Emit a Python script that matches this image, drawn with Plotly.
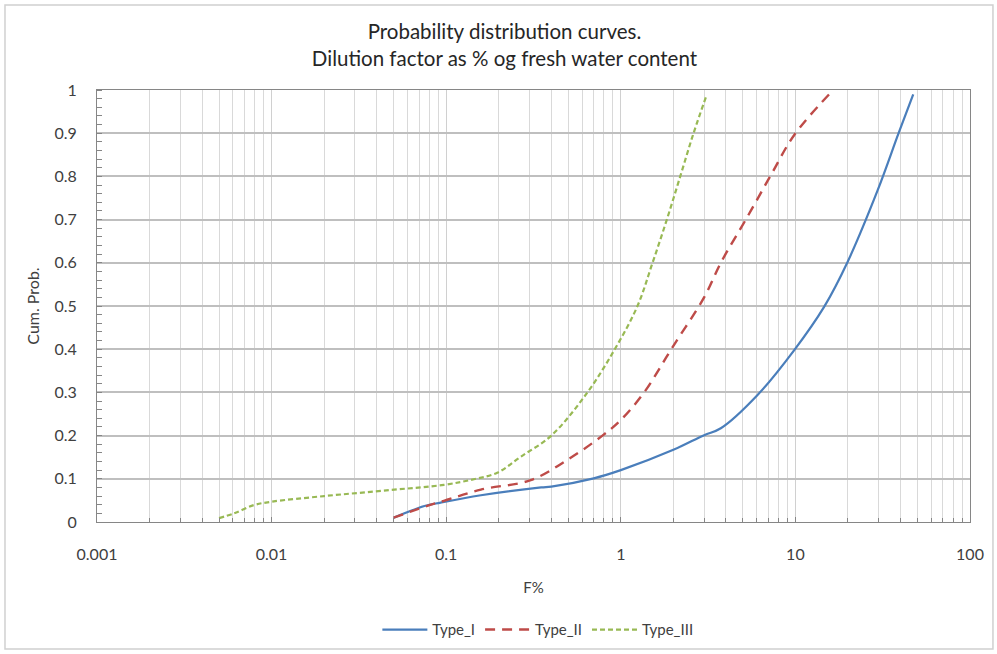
import plotly.graph_objects as go

# Data
type1_x = [0.05, 0.075, 0.093, 0.158, 0.35, 0.40, 0.70, 1.0, 2.0, 3.0, 3.74, 6.07, 9.85, 14.6, 19.9, 29.6, 39.0, 47.3]
type1_y = [0.010, 0.037, 0.045, 0.062, 0.080, 0.082, 0.101, 0.120, 0.167, 0.201, 0.217, 0.294, 0.398, 0.498, 0.602, 0.768, 0.900, 0.990]

type2_x = [0.05, 0.075, 0.097, 0.158, 0.305, 0.50, 0.785, 1.0, 1.36, 1.98, 3.0, 3.74, 5.32, 7.24, 9.85, 15.6]
type2_y = [0.010, 0.035, 0.049, 0.075, 0.097, 0.145, 0.200, 0.236, 0.300, 0.405, 0.520, 0.600, 0.707, 0.803, 0.896, 0.990]

type3_x = [0.005, 0.0061, 0.0079, 0.01, 0.02, 0.048, 0.097, 0.144, 0.196, 0.267, 0.40, 0.644, 0.924, 1.246, 1.52, 1.835, 2.19, 2.61, 3.1]
type3_y = [0.009, 0.020, 0.039, 0.047, 0.060, 0.074, 0.086, 0.099, 0.114, 0.151, 0.200, 0.300, 0.40, 0.50, 0.60, 0.70, 0.80, 0.90, 0.988]

x_tick_vals = [0.001, 0.01, 0.1, 1, 10, 100]
x_tick_text = ["0.001", "0.01", "0.1", "1", "10", "100"]
y_tick_vals = [0, 0.1, 0.2, 0.3, 0.4, 0.5, 0.6, 0.7, 0.8, 0.9, 1]
y_tick_text = ["0", "0.1", "0.2", "0.3", "0.4", "0.5", "0.6", "0.7", "0.8", "0.9", "1"]

FONT = "Lato"
TXT = "#404040"

minor_x = [m * 10 ** e for e in range(-3, 2) for m in range(2, 10)]

fig = go.Figure()
fig.add_trace(go.Scatter(x=type1_x, y=type1_y, mode="lines", name="Type_I",
                         line=dict(color="#4a7ebb", width=2.2, shape="spline", smoothing=1.0)))
fig.add_trace(go.Scatter(x=type2_x, y=type2_y, mode="lines", name="Type_II",
                         line=dict(color="#be4b48", width=2.4, dash="10px,7px", shape="spline", smoothing=1.0)))
fig.add_trace(go.Scatter(x=type3_x, y=type3_y, mode="lines", name="Type_III",
                         line=dict(color="#98b954", width=2.2, dash="5px,3px", shape="spline", smoothing=1.0)))

fig.update_layout(
    width=997, height=654,
    margin=dict(l=97, r=27, t=90, b=132),
    paper_bgcolor="white", plot_bgcolor="white",
    font=dict(family=FONT, size=16, color=TXT),
    title=dict(text="Probability distribution curves.<br>Dilution factor as % og fresh water content",
               x=0.506, xanchor="center", yref="container", y=0.94, yanchor="top",
               font=dict(family=FONT, size=20.5, color="#262626")),
    showlegend=True,
    legend=dict(orientation="h", x=0.505, xanchor="center", yref="container", y=0.037, yanchor="middle",
                font=dict(family=FONT, size=15, color=TXT), itemwidth=45),
    xaxis=dict(type="log", range=[-3, 2], tickvals=x_tick_vals, ticktext=x_tick_text,
               showgrid=True, gridcolor="#d0d0d0", gridwidth=1,
               showline=True, linecolor="#868686", linewidth=1, mirror=True,
               ticks="inside", ticklen=5, tickcolor="#868686",
               ticklabelstandoff=18,
               minor=dict(tickvals=minor_x, showgrid=True, gridcolor="#d9d9d9", gridwidth=1,
                          ticks="inside", ticklen=4, tickcolor="#868686"),
               title=dict(text="F%", font=dict(family=FONT, size=15, color=TXT), standoff=20),
               zeroline=False, tickfont=dict(size=16)),
    yaxis=dict(range=[0, 1], tickvals=y_tick_vals, ticktext=y_tick_text,
               showgrid=True, gridcolor="#bfbfbf", gridwidth=1.5,
               showline=True, linecolor="#868686", linewidth=1, mirror=True,
               ticks="", ticklabelstandoff=16,
               minor=dict(dtick=0.02, ticks="inside", ticklen=5, tickcolor="#868686", showgrid=False),
               title=dict(text="Cum. Prob.", font=dict(family=FONT, size=16, color=TXT), standoff=10),
               zeroline=False, tickfont=dict(size=16)),
    shapes=[dict(type="rect", xref="paper", yref="paper", x0=-0.1054, x1=1.0263, y0=-0.294, y1=1.197,
                 line=dict(color="#d0d0d0", width=1.5))],
)

fig.write_html("out.html")
